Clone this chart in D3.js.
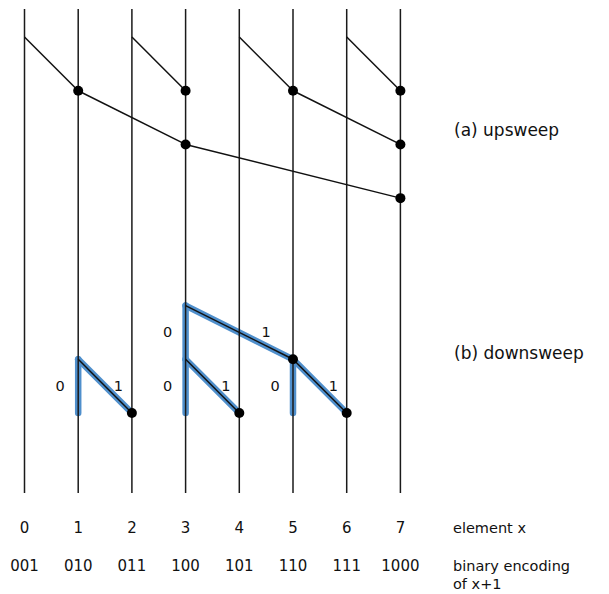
<!DOCTYPE html>
<html>
<head>
<meta charset="utf-8">
<script src="https://d3js.org/d3.v7.min.js"></script>
<style>
  body { margin: 0; background: #fff; }
  text { font-family: "DejaVu Sans", sans-serif; fill: #111; }
</style>
</head>
<body>
<div id="chart"></div>
<script>
// elements and their labels
var elements = [0, 1, 2, 3, 4, 5, 6, 7];
var binaryCodes = ["001", "010", "011", "100", "101", "110", "111", "1000"];

// upsweep edges: [fromElement, fromLevel, toElement, toLevel]
var upEdges = [
  [0, 0, 1, 1], [2, 0, 3, 1], [4, 0, 5, 1], [6, 0, 7, 1],
  [1, 1, 3, 2], [5, 1, 7, 2],
  [3, 2, 7, 3]
];
// upsweep dots: [element, level]
var upDots = [[1, 1], [3, 1], [5, 1], [7, 1], [3, 2], [7, 2], [7, 3]];

// downsweep nodes: [parentElement, level, rightChildElement]
var downNodes = [
  [3, 5, 5],
  [1, 6, 2], [3, 6, 4], [5, 6, 6]
];
var downDots = [[5, 6], [2, 7], [4, 7], [6, 7]];

var sectionLabels = [["(a) upsweep", 1.85], ["(b) downsweep", 6.0]];

var width = 609, height = 594;
var svg = d3.select("#chart").append("svg")
  .attr("width", width)
  .attr("height", height);

var x = d3.scaleLinear().domain([0, 7]).range([24.5, 400.4]);
var y = d3.scaleLinear().domain([0, 7]).range([37, 413]);

var blue = "#4f8fcc";

// blue highlight under the downsweep
var hl = svg.append("g")
  .attr("fill", "none")
  .attr("stroke", blue)
  .attr("stroke-width", 6.5)
  .attr("stroke-linecap", "round");

downNodes.forEach(function (d) {
  hl.append("line")
    .attr("x1", x(d[0])).attr("y1", y(d[1]))
    .attr("x2", x(d[0])).attr("y2", y(d[1] + 1));
  hl.append("line")
    .attr("x1", x(d[0])).attr("y1", y(d[1]))
    .attr("x2", x(d[2])).attr("y2", y(d[1] + 1));
});

// vertical element lines
svg.append("g").selectAll("line")
  .data(elements)
  .join("line")
  .attr("x1", d => x(d)).attr("x2", d => x(d))
  .attr("y1", 9).attr("y2", 493)
  .attr("stroke", "#1a1a1a")
  .attr("stroke-width", 1.5);

// upsweep edges
svg.append("g").selectAll("line")
  .data(upEdges)
  .join("line")
  .attr("x1", d => x(d[0])).attr("y1", d => y(d[1]))
  .attr("x2", d => x(d[2])).attr("y2", d => y(d[3]))
  .attr("stroke", "#111")
  .attr("stroke-width", 1.5);

// downsweep diagonals (thin black over the blue)
svg.append("g").selectAll("line")
  .data(downNodes)
  .join("line")
  .attr("x1", d => x(d[0])).attr("y1", d => y(d[1]))
  .attr("x2", d => x(d[2])).attr("y2", d => y(d[1] + 1))
  .attr("stroke", "#111")
  .attr("stroke-width", 1.5);

// dots
svg.append("g").selectAll("circle")
  .data(upDots.concat(downDots))
  .join("circle")
  .attr("cx", d => x(d[0]))
  .attr("cy", d => y(d[1]))
  .attr("r", 5)
  .attr("fill", "#000");

// 0 / 1 edge labels
var lab = svg.append("g").style("font-size", "14.5px");
downNodes.forEach(function (d) {
  var ym = y(d[1] + 0.5) + 5;
  lab.append("text")
    .attr("x", x(d[0]) - 18).attr("y", ym)
    .attr("text-anchor", "middle")
    .text("0");
  lab.append("text")
    .attr("x", x(d[0]) + 0.75 * (x(d[2]) - x(d[0]))).attr("y", ym)
    .attr("text-anchor", "middle")
    .text("1");
});

// section labels
svg.append("g").selectAll("text")
  .data(sectionLabels)
  .join("text")
  .attr("x", 454)
  .attr("y", d => y(d[1]))
  .style("font-size", "17px")
  .text(d => d[0]);

// bottom rows
svg.append("g").selectAll("text")
  .data(elements)
  .join("text")
  .attr("x", d => x(d)).attr("y", 533)
  .attr("text-anchor", "middle")
  .style("font-size", "15px")
  .text(d => d);

svg.append("g").selectAll("text")
  .data(binaryCodes)
  .join("text")
  .attr("x", (d, i) => x(i)).attr("y", 571)
  .attr("text-anchor", "middle")
  .style("font-size", "15px")
  .text(d => d);

var side = svg.append("g").style("font-size", "14.5px");
side.append("text").attr("x", 453).attr("y", 533).text("element x");
side.append("text").attr("x", 453).attr("y", 571).text("binary encoding");
side.append("text").attr("x", 453).attr("y", 589).text("of x+1");
</script>
</body>
</html>
